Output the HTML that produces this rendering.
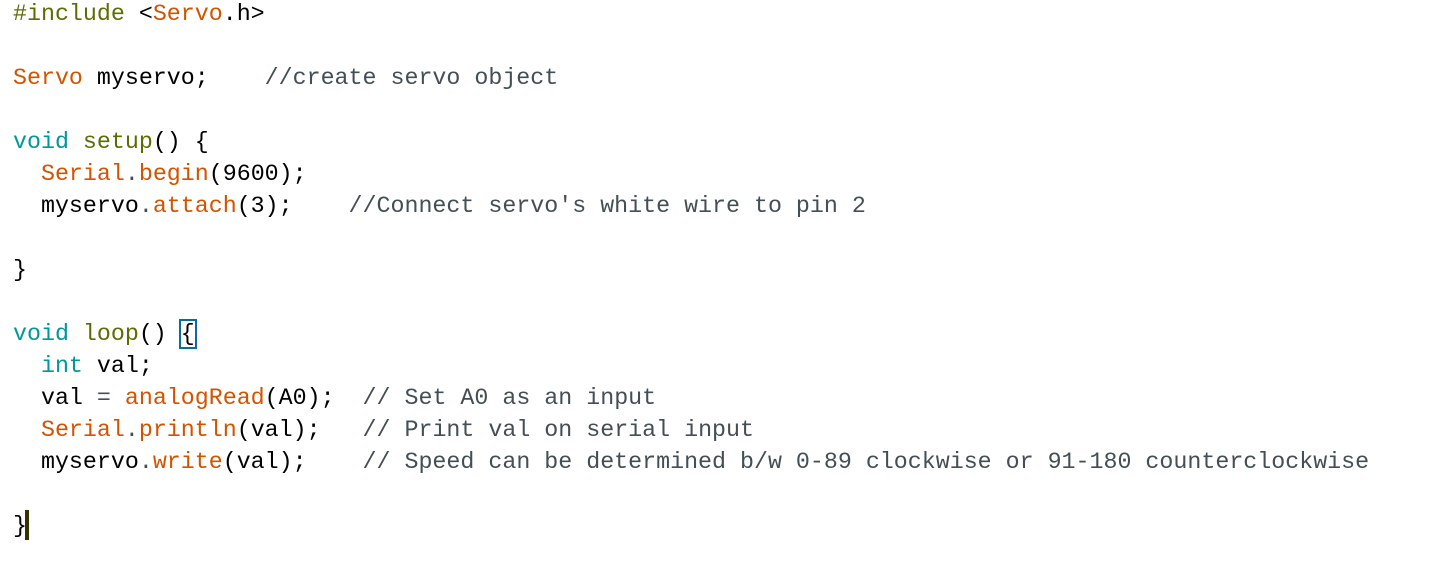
<!DOCTYPE html>
<html><head><meta charset="utf-8"><style>
html,body{margin:0;padding:0;background:#fff;width:1450px;height:582px;overflow:hidden}
pre{position:absolute;left:13px;top:-2px;margin:0;font-family:"Liberation Mono","DejaVu Sans Mono",monospace;font-size:23.3px;line-height:32px;color:#000}
.k{color:#5e6d03}.o{color:#d35400}.t{color:#00979c}.c{color:#434f54}.g{color:#434f54}
.br{outline:2px solid #0b6aa0;outline-offset:0}
.cur{position:absolute;left:25px;top:510px;width:4px;height:30px;background:#333300}
</style></head><body>
<pre><span class="k">#include</span> &lt;<span class="o">Servo</span>.h&gt;

<span class="o">Servo</span> myservo;    <span class="c">//create servo object</span>

<span class="t">void</span> <span class="k">setup</span>() {
  <span class="o">Serial</span><span class="g">.</span><span class="o">begin</span>(9600);
  myservo<span class="g">.</span><span class="o">attach</span>(3);    <span class="c">//Connect servo's white wire to pin 2</span>

}

<span class="t">void</span> <span class="k">loop</span>() <span class="br">{</span>
  <span class="t">int</span> val;
  val <span class="g">=</span> <span class="o">analogRead</span>(A0);  <span class="c">// Set A0 as an input</span>
  <span class="o">Serial</span><span class="g">.</span><span class="o">println</span>(val);   <span class="c">// Print val on serial input</span>
  myservo<span class="g">.</span><span class="o">write</span>(val);    <span class="c">// Speed can be determined b/w 0-89 clockwise or 91-180 counterclockwise</span>

}</pre>
<div class="cur"></div>
</body></html>
